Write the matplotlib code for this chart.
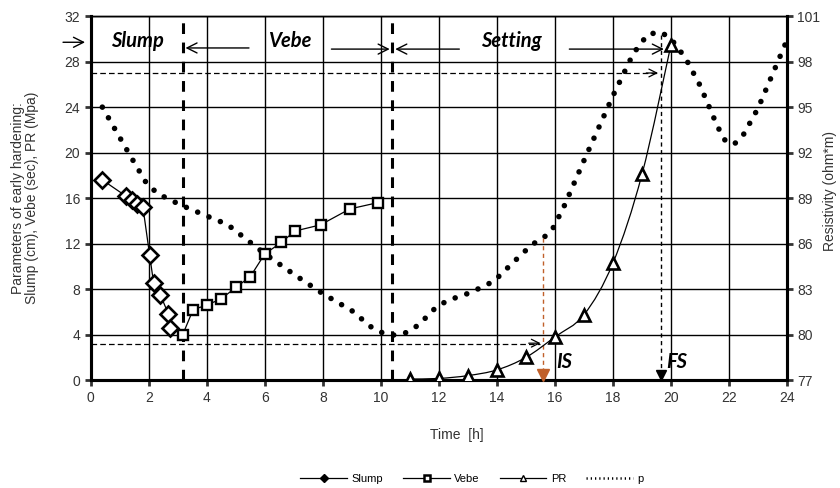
import numpy as np
import matplotlib.pyplot as plt
from matplotlib.path import Path
from matplotlib.patches import PathPatch
from matplotlib.lines import Line2D

plt.rcParams['font.family'] = ['Liberation Sans', 'DejaVu Sans']

# slump (cm)
slump_t = [0.4, 1.2, 1.42, 1.6, 1.8, 2.03, 2.17, 2.4, 2.68, 2.72]
slump_v = [17.6, 16.2, 15.8, 15.5, 15.2, 11.0, 8.5, 7.5, 5.8, 4.55]

# vebe (sec)
vebe_t = [3.17, 3.53, 4.0, 4.5, 5.0, 5.5, 6.0, 6.57, 7.03, 7.92, 8.93, 9.89]
vebe_v = [4.0, 6.2, 6.6, 7.15, 8.15, 9.1, 11.1, 12.1, 13.1, 13.65, 15.05, 15.6]

# penetration resistance (MPa)
pr_t = [11, 12, 13, 14, 15, 16, 17, 18, 19, 20]
pr_v = [0.1, 0.15, 0.4, 0.9, 2.0, 3.8, 5.75, 10.3, 18.1, 29.5]

# resistivity (ohm*m)
rho_t = [0.4, 1.3, 1.9, 2.3, 3.1, 4.3, 4.7, 6.0, 7.0, 8.0, 9.0, 9.7, 10.1, 10.5,
         10.9, 11.3, 11.9, 12.3, 13.1, 13.9, 14.5, 15.2, 15.6, 15.9, 16.3, 17.0,
         18.0, 18.7, 19.2, 19.65, 20.0, 20.5, 21.0, 21.6, 21.9, 22.2, 22.5, 23.0,
         23.5, 24.0]
rho_v = [95.0, 92.0, 90.05, 89.3, 88.55, 87.58, 87.28, 85.33, 83.98, 82.7, 81.58,
         80.45, 80.08, 79.96, 80.15, 80.64, 81.8, 82.25, 82.78, 83.53, 84.65, 85.93,
         86.38, 86.9, 88.4, 91.48, 95.75, 98.53, 99.8, 99.95, 99.5, 98.23, 96.43,
         93.73, 92.68, 92.6, 93.2, 94.93, 97.18, 99.43]

is_time = 15.6
fs_time = 19.65
phase_bounds = [3.17, 10.4]


def smooth_path(xs, ys):
    # excel-like smoothed line: cubic bezier through every point
    x = np.asarray(xs, float)
    y = np.asarray(ys, float)
    verts = [(x[0], y[0])]
    codes = [Path.MOVETO]
    n = len(x)
    for i in range(n - 1):
        x0, y0 = (x[i - 1], y[i - 1]) if i > 0 else (x[i], y[i])
        x3, y3 = (x[i + 2], y[i + 2]) if i + 2 < n else (x[i + 1], y[i + 1])
        c1 = (x[i] + (x[i + 1] - x0) / 6, y[i] + (y[i + 1] - y0) / 6)
        c2 = (x[i + 1] - (x3 - x[i]) / 6, y[i + 1] - (y3 - y[i]) / 6)
        verts += [c1, c2, (x[i + 1], y[i + 1])]
        codes += [Path.CURVE4] * 3
    return Path(verts, codes)


fig = plt.figure(figsize=(8.4, 4.88), dpi=100)
ax = fig.add_axes([0.108, 0.221, 0.829, 0.746])
ax2 = ax.twinx()

ax.set_xlim(0, 24)
ax.set_ylim(0, 32)
ax2.set_ylim(77, 101)
ax.set_xticks(range(0, 25, 2))
ax.set_yticks(range(0, 33, 4))
ax2.set_yticks(range(77, 102, 3))
ax.grid(True, color='black', lw=1.0)
ax.set_axisbelow(True)

for a in (ax, ax2):
    for s in ('left', 'right', 'bottom'):
        a.spines[s].set_linewidth(2.2)
    a.spines['top'].set_linewidth(1.0)
    a.tick_params(labelsize=10, width=2, length=4, colors='#333333', labelcolor='#333333')

# resistivity dotted
ax2.plot(rho_t, rho_v, color='black', lw=4.0, linestyle=(0, (0.01, 2.2)),
         dash_capstyle='round', zorder=3)

ax.set_zorder(ax2.get_zorder() + 1)
ax.patch.set_visible(False)

ax.plot(slump_t, slump_v, color='black', lw=0.9, marker='D', ms=8, mfc='white',
        mec='black', mew=1.9, zorder=4)
ax.plot(vebe_t, vebe_v, color='black', lw=0.9, marker='s', ms=7.5, mfc='white',
        mec='black', mew=1.7, zorder=4)
ax.add_patch(PathPatch(smooth_path(pr_t, pr_v), fill=False, lw=0.9, color='black', zorder=4))
ax.plot(pr_t, pr_v, ls='none', marker='^', ms=8, mfc='white', mec='black', mew=1.9,
        zorder=5)

# phase boundaries
for xb in phase_bounds:
    ax.plot([xb, xb], [0, 31.6], color='black', lw=2.2, ls=(0, (3.5, 2.8)), zorder=3)

# setting time guides
ax.plot([0, is_time - 0.1], [3.2, 3.2], color='black', lw=0.9, ls=(0, (4.5, 2.5)), zorder=3)
ax.annotate('', xy=(is_time, 3.25), xytext=(is_time - 0.6, 3.25),
            arrowprops=dict(arrowstyle='->', lw=0.9, mutation_scale=14, color='black'))
ax.plot([0, fs_time - 0.1], [27, 27], color='black', lw=0.9, ls=(0, (4.5, 2.5)), zorder=3)
ax.annotate('', xy=(fs_time, 27), xytext=(fs_time - 0.6, 27),
            arrowprops=dict(arrowstyle='->', lw=0.9, mutation_scale=14, color='black'))

ax.plot([is_time, is_time], [12.5, 0.8], color='#C0602A', lw=1.0, ls=(0, (3, 2.5)), zorder=3)
ax.plot([is_time], [0.45], marker='v', ms=8, color='#C0602A', ls='none', zorder=6,
        clip_on=False)
ax.plot([fs_time, fs_time], [30.3, 0.8], color='black', lw=1.0, ls=(0, (3, 2.5)), zorder=3)
ax.plot([fs_time], [0.45], marker='v', ms=7, color='black', ls='none', zorder=6,
        clip_on=False)

lab_font = dict(family=['Lato', 'DejaVu Sans'], fontsize=14.5, fontweight='bold',
                fontstyle='italic', color='black')
ax.text(1.6, 29.8, 'Slump', ha='center', va='center', zorder=6, **lab_font)
ax.text(6.85, 29.8, 'Vebe', ha='center', va='center', zorder=6, **lab_font)
ax.text(14.5, 29.8, 'Setting', ha='center', va='center', zorder=6, **lab_font)
ax.text(16.05, 1.6, 'IS', ha='left', va='center', zorder=6, **lab_font)
ax.text(19.85, 1.6, 'FS', ha='left', va='center', zorder=6, **lab_font)

arr = dict(arrowstyle='->', lw=1.0, mutation_scale=18, color='black')
ax.annotate('', xy=(-0.1, 29.7), xytext=(-1.05, 29.7), arrowprops=arr,
            annotation_clip=False)
ax.annotate('', xy=(phase_bounds[0], 29.2), xytext=(5.55, 29.2), arrowprops=arr)
ax.annotate('', xy=(phase_bounds[1], 29.1), xytext=(8.2, 29.1), arrowprops=arr)
ax.annotate('', xy=(phase_bounds[1], 29.1), xytext=(12.8, 29.1), arrowprops=arr)
ax.annotate('', xy=(19.85, 29.1), xytext=(16.4, 29.1), arrowprops=arr)

fig.text(0.030, 0.594, 'Parameters of early hardening:\nSlump (cm), Vebe (sec), PR (Mpa)',
         rotation=90, ha='center', va='center', fontsize=10, color='#333333',
         linespacing=1.0)
fig.text(0.988, 0.609, 'Resistivity (ohm*m)', rotation=90, ha='center', va='center',
         fontsize=10, color='#333333')
fig.text(0.544, 0.109, 'Time  [h]', ha='center', va='center', fontsize=10, color='#333333')

handles = [
    Line2D([], [], color='black', lw=0.9, marker='D', ms=4, mfc='black'),
    Line2D([], [], color='black', lw=0.9, marker='s', ms=5, mfc='white', mew=1.8),
    Line2D([], [], color='black', lw=0.9, marker='^', ms=4, mfc='white'),
    Line2D([], [], color='black', lw=1.8, ls=(0, (0.5, 1.2))),
]
fig.legend(handles, ['Slump', 'Vebe', 'PR', 'p'], loc='center',
           bbox_to_anchor=(0.562, 0.018), ncol=4, frameon=False, fontsize=8,
           handlelength=4.2, columnspacing=1.8, handletextpad=0.4)

fig.savefig('out.png', dpi=100)
